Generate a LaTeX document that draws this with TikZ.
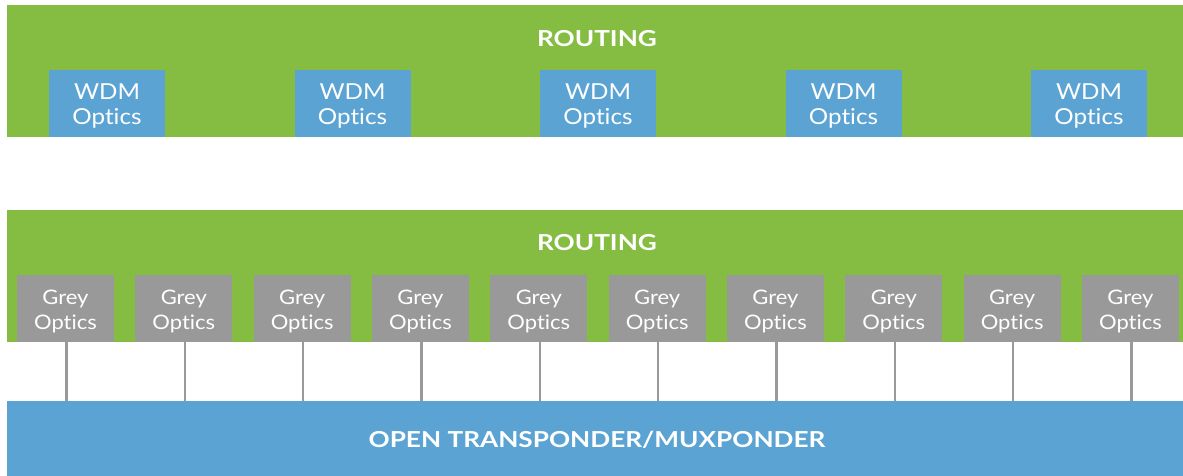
\documentclass[tikz,border=0pt]{standalone}
\usepackage{fontspec}
\setmainfont{Lato}[FakeStretch=1.1, Ligatures=NoCommon]
\newfontfamily\headfont{Lato}[FakeStretch=1.19, Ligatures=NoCommon]
\definecolor{routegreen}{HTML}{84BD41}
\definecolor{wdmblue}{HTML}{5BA3D3}
\definecolor{optgrey}{HTML}{999999}
\tikzset{
  band/.style={fill=#1, draw=none, inner sep=0pt, anchor=north west},
  title/.style={text=white, font=\headfont\fontsize{22}{26}\selectfont\bfseries, inner sep=0pt},
  wdm/.style={fill=wdmblue, draw=none, minimum width=116pt, minimum height=67pt,
    anchor=north, inner sep=0pt},
  grey/.style={fill=optgrey, draw=none, minimum width=97pt, minimum height=67pt,
    anchor=north, inner sep=0pt},
  wdmtext/.style={text=white, align=center, inner sep=0pt,
    font=\fontsize{22}{25}\selectfont},
  greytext/.style={text=white, align=center, inner sep=0pt,
    font=\fontsize{20}{25}\selectfont},
  link/.style={draw=optgrey, line width=2.4pt},
}
\begin{document}
\begin{tikzpicture}[x=1pt, y=-1pt]
  \useasboundingbox (0,0) rectangle (1183,476);

  % upper router with coloured (WDM) interfaces
  \node[band=routegreen, minimum width=1176pt, minimum height=132pt] (routerA) at (7,5) {};
  \node[title] (routerAlabel) at (597,39) {ROUTING};
  \foreach \i in {0,...,4} {
    \node[wdm] (wdm\i) at ({107+245.5*\i},70) {};
    \node[wdmtext] (wdmlabel\i) at ([yshift=-2.5pt]wdm\i.center) {WDM\\Optics};
  }

  % lower router with grey interfaces
  \node[band=routegreen, minimum width=1176pt, minimum height=132pt] (routerB) at (7,210) {};
  \node[title] (routerBlabel) at (597,243) {ROUTING};
  \foreach \i in {0,...,9} {
    \node[grey] (grey\i) at ({65.5+118.33*\i},275) {};
    \node[greytext] (greylabel\i) at ([yshift=-3pt]grey\i.center) {Grey\\Optics};
  }

  % transponder shelf
  \node[band=wdmblue, minimum width=1176pt, minimum height=75pt] (xpdr) at (7,401) {};
  \node[title] (xpdrlabel) at (597,440) {OPEN TRANSPONDER/MUXPONDER};

  % client fibres from each grey optic down to the shelf
  \foreach \i in {0,...,9} {
    \draw[link] ([xshift=1pt]grey\i.south) -- ([xshift=1pt]grey\i.south |- xpdr.north);
  }
\end{tikzpicture}
\end{document}
